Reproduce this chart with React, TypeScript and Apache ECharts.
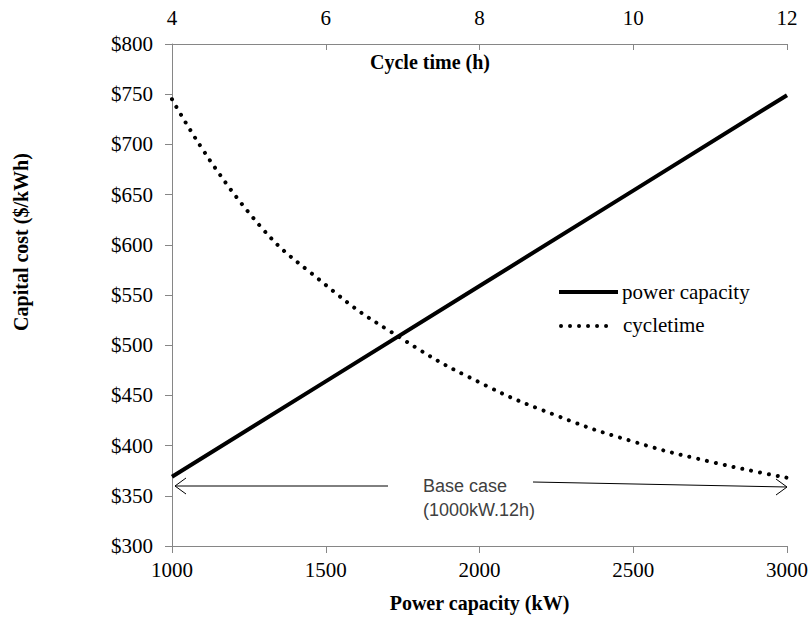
import React, { useEffect, useRef } from "react";
import * as echarts from "echarts";

const powerKW = [1000, 1500, 2000, 2500, 3000];
const powerCost = [369, 464, 559, 654, 749];
const cycleHours = [4, 5, 6, 7, 8, 9, 10, 11, 12];
const cycleCost = [745, 632, 560, 506, 463, 430, 404, 384, 368];
const seriesNames = ["power capacity", "cycletime"];

const SERIF = '"Liberation Serif", "Times New Roman", serif';
const SANS = '"Liberation Sans", Arial, sans-serif';
const AXIS_GRAY = "#868686";
const DOTS = [0.01, 9];

export default function App() {
  const ref = useRef<HTMLDivElement>(null);
  useEffect(() => {
    if (!ref.current) return;
    const chart = echarts.init(ref.current, null, { renderer: "svg" });
    chart.setOption({
      animation: false,
      backgroundColor: "#ffffff",
      grid: { left: 172, right: 22, top: 44, bottom: 73 },
      xAxis: [
        {
          type: "value",
          position: "bottom",
          min: 1000,
          max: 3000,
          interval: 500,
          name: "Power capacity (kW)",
          nameLocation: "middle",
          nameGap: 47,
          nameTextStyle: { fontFamily: SERIF, fontSize: 20, fontWeight: "bold", color: "#000" },
          axisLine: { show: true, lineStyle: { color: AXIS_GRAY, width: 1 } },
          axisTick: { show: true, inside: false, length: 7, lineStyle: { color: AXIS_GRAY } },
          axisLabel: {
            fontFamily: SERIF,
            fontSize: 21,
            color: "#000",
            margin: 13,
            formatter: (v: number) => String(v),
          },
          splitLine: { show: false },
        },
        {
          type: "value",
          position: "top",
          min: 4,
          max: 12,
          interval: 2,
          axisLine: { show: true, onZero: false, lineStyle: { color: AXIS_GRAY, width: 1 } },
          axisTick: { show: true, inside: true, length: 6, lineStyle: { color: AXIS_GRAY } },
          axisLabel: { fontFamily: SERIF, fontSize: 21, color: "#000", margin: 16 },
          splitLine: { show: false },
        },
      ],
      yAxis: {
        type: "value",
        min: 300,
        max: 800,
        interval: 50,
        axisLine: { show: true, lineStyle: { color: AXIS_GRAY, width: 1 } },
        axisTick: { show: true, inside: false, length: 7, lineStyle: { color: AXIS_GRAY } },
        axisLabel: {
          fontFamily: SERIF,
          fontSize: 21,
          color: "#000",
          margin: 19,
          formatter: (v: number) => "$" + v,
        },
        splitLine: { show: false },
      },
      series: [
        {
          name: seriesNames[0],
          type: "line",
          xAxisIndex: 0,
          data: powerKW.map((x, i) => [x, powerCost[i]]),
          symbol: "none",
          lineStyle: { color: "#000", width: 4 },
          itemStyle: { color: "#000" },
        },
        {
          name: seriesNames[1],
          type: "line",
          xAxisIndex: 1,
          smooth: true,
          data: cycleHours.map((x, i) => [x, cycleCost[i]]),
          symbol: "none",
          lineStyle: { color: "#000", width: 4, type: DOTS, cap: "round" },
          itemStyle: { color: "#000" },
        },
      ],
      graphic: [
        // legend
        {
          type: "line",
          shape: { x1: 559, y1: 292, x2: 618, y2: 292 },
          style: { stroke: "#000", lineWidth: 4 },
        },
        {
          type: "text",
          x: 622,
          y: 292,
          style: {
            text: seriesNames[0],
            font: `21px ${SERIF}`,
            fill: "#000",
            align: "left",
            verticalAlign: "middle",
          },
        },
        {
          type: "line",
          shape: { x1: 561, y1: 326, x2: 612, y2: 326 },
          style: { stroke: "#000", lineWidth: 4, lineDash: DOTS, lineCap: "round" },
        },
        {
          type: "text",
          x: 623,
          y: 325,
          style: {
            text: seriesNames[1],
            font: `21px ${SERIF}`,
            fill: "#000",
            align: "left",
            verticalAlign: "middle",
          },
        },
        // axis titles
        {
          type: "text",
          x: 430,
          y: 62,
          style: {
            text: "Cycle time (h)",
            font: `bold 20px ${SERIF}`,
            fill: "#000",
            align: "center",
            verticalAlign: "middle",
          },
        },
        {
          type: "text",
          x: 21,
          y: 242,
          rotation: Math.PI / 2,
          style: {
            text: "Capital cost ($/kWh)",
            font: `bold 20px ${SERIF}`,
            fill: "#000",
            align: "center",
            verticalAlign: "middle",
          },
        },
        // annotation
        {
          type: "text",
          x: 423,
          y: 486,
          style: {
            text: "Base case",
            font: `18px ${SANS}`,
            fill: "#404040",
            align: "left",
            verticalAlign: "middle",
          },
        },
        {
          type: "text",
          x: 423,
          y: 510,
          style: {
            text: "(1000kW.12h)",
            font: `18px ${SANS}`,
            fill: "#404040",
            align: "left",
            verticalAlign: "middle",
          },
        },
        {
          type: "line",
          shape: { x1: 388, y1: 486, x2: 175, y2: 486 },
          style: { stroke: "#000", lineWidth: 1 },
        },
        {
          type: "polyline",
          shape: { points: [[186, 478], [175, 486], [186, 494]] },
          style: { stroke: "#000", lineWidth: 1, fill: null },
        },
        {
          type: "line",
          shape: { x1: 533, y1: 482, x2: 787, y2: 487 },
          style: { stroke: "#000", lineWidth: 1 },
        },
        {
          type: "polyline",
          shape: { points: [[776, 479], [787, 487], [776, 495]] },
          style: { stroke: "#000", lineWidth: 1, fill: null },
        },
      ],
    });
    return () => chart.dispose();
  }, []);
  return <div ref={ref} style={{ width: 811, height: 619, position: "absolute", left: 0, top: 0 }} />;
}
